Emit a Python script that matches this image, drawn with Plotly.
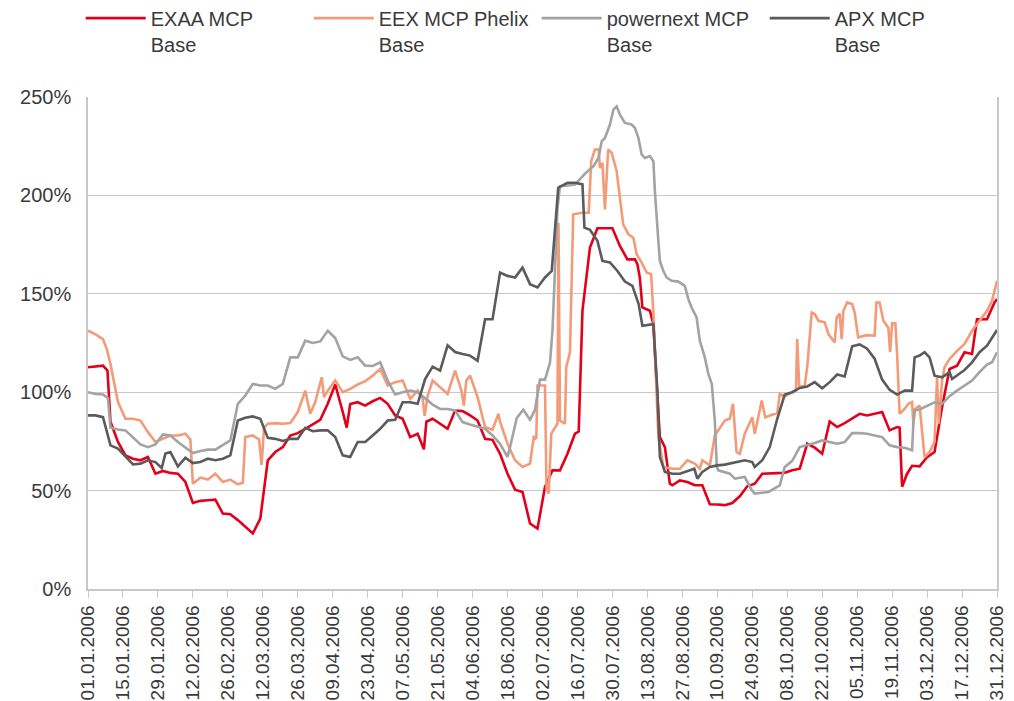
import pandas as pd
import plotly.graph_objects as go

# ---------------- data (day offset from 01.01.2006, value in %) ----------------
exaa_days = [0, 3, 6, 7.8, 9, 12, 15, 18, 21, 24, 27, 30, 33, 36, 39, 42, 45, 48, 51, 54, 57, 60, 63, 66, 69,
             72, 75, 78, 81, 84, 87, 90, 93, 96, 99, 102, 103.6, 105, 108, 111, 114, 117, 120, 123, 126, 129,
             132, 134.5, 135.5, 138, 141, 144, 147, 150, 153, 156, 159, 162, 165, 168, 171, 174, 177, 180, 183,
             186, 189, 192, 195, 196.5, 198, 201, 204, 207, 210, 213, 216, 219, 220, 221, 222, 225, 226.4, 227.7,
             229, 231, 233, 234, 237, 240, 243, 246, 249, 252, 255, 258, 261, 264, 267, 270, 273, 276, 279, 282,
             285, 288, 291, 294, 297, 300, 303, 306, 309, 312, 315, 318, 321, 324, 325, 326, 328, 330, 333, 336,
             339, 342, 345, 348, 351, 354, 356, 360, 363, 364]
exaa_vals = [112.7, 113, 113.5, 111, 85, 74.7, 67.9, 66.2, 65.4, 67.1, 58.6, 60, 59, 58.6, 54.4, 43.7, 44.8, 45.1,
             45.4, 38.3, 38, 35, 31.6, 28.2, 35.8, 65.4, 69.6, 72.1, 78, 79.2, 81.4, 83.9, 86, 94.1, 103.9, 90, 82,
             94, 94.9, 93.2, 95.4, 97.1, 94.1, 88.2, 86.5, 77.2, 78.9, 71, 85, 86.5, 84, 81.4, 90.7, 90.4, 88.2,
             85.6, 76.3, 75.8, 68.7, 58.6, 50.5, 49.3, 33.3, 30.7, 51.9, 60.3, 60.3, 68.7, 78.9, 80, 141.4, 173.5,
             183.3, 183.3, 183.3, 174.3, 167.5, 167.5, 165, 158, 143.1, 141.4, 134.6, 104, 77.2, 72.1, 53.5, 52.7,
             55.2, 54.4, 52.7, 52.7, 43.1, 42.9, 42.6, 43.7, 47.1, 52.2, 53.5, 58.6, 58.9, 58.9, 59.1, 60.3, 61.1,
             73.8, 71.8, 68.7, 85.1, 82.3, 84.3, 86.5, 89, 88.2, 89, 89.9, 80.6, 82.3, 82, 52, 58.6, 62.6, 62.3,
             67, 69.6, 92.4, 111.8, 113.5, 120.3, 119.4, 137, 137.1, 145.6, 147.3]

eex_days = [0, 3, 6, 7.5, 9, 12, 15, 18, 21, 24, 27, 30, 33, 36, 39, 41, 42, 45, 48, 51, 54, 57, 60, 62, 63, 66,
            68.5, 69.5, 70.5, 72, 75, 78, 81, 84, 87, 89, 91, 93.6, 94.5, 96, 99, 102, 105, 108, 111, 114, 117,
            120, 123, 126, 129, 132, 134, 134.8, 136, 138, 141, 144, 147, 149.5, 150.5, 151.5, 153, 156, 159, 162,
            164.3, 165, 168, 171, 174, 177, 178.5, 179.5, 180, 183, 183.6, 184.5, 185.5, 188, 188.4, 189, 191,
            191.5, 193, 194.3, 198, 200.5, 201.5, 203, 204.5, 205, 206, 207, 208.3, 209.7, 211.7, 214.3, 216.4,
            218.4, 219.7, 221.7, 223.7, 225.5, 226.4, 228.4, 230.4, 234, 237, 240, 243, 245, 246, 249, 251, 255,
            257, 258.3, 259.7, 261, 263, 264.5, 266, 267, 268.5, 269.8, 271.2, 275, 276, 277, 279, 282, 283.5,
            284, 284.8, 287, 288, 289.8, 291, 292.5, 295, 296.5, 298, 299, 299.8, 301, 301.8, 302.5, 304, 306,
            307, 308.4, 311.8, 315, 315.7, 317, 318.5, 320.5, 321.2, 322, 323.3, 324, 325, 327, 328.5, 330, 330.5,
            331.2, 333, 335, 337, 339, 340, 340.7, 342, 343, 345, 348, 351, 354, 357, 360, 362, 364]
eex_vals = [131.2, 129.4, 127, 122, 114.3, 95, 86.5, 86.5, 85.6, 79.7, 74.7, 76.3, 78, 78, 78.9, 76, 53.5, 56.6,
            55.6, 58.6, 54.4, 55.6, 53.2, 54, 77.2, 78, 76, 63, 82, 84, 84.3, 84, 84.3, 89.9, 100.8, 89, 95, 107.6,
            97.5, 100.8, 105.9, 100, 101.7, 103.9, 105.6, 108.4, 111.8, 103.4, 105.1, 105.9, 96.6, 100.8, 97, 88,
            98, 105.9, 102.5, 99.1, 111, 101, 93.2, 106, 108.4, 97.5, 82.3, 80.9, 89, 85, 73.8, 65.4, 62, 63.7,
            77.2, 76.3, 103.4, 103.4, 51, 48.5, 78.9, 84, 186, 85.6, 84, 112.7, 120.3, 190.4, 191.2, 191.2, 217.4,
            223.3, 223.3, 214, 216.5, 192.9, 223.3, 221.6, 212.3, 185.3, 180.2, 178.5, 170.1, 165.9, 160.8, 160,
            140.5, 77.2, 62, 61.1, 61.1, 65.4, 63.7, 61.1, 65.4, 62.8, 78, 85.6, 86.5, 94.1, 69.6, 68.7, 78.9,
            83.1, 87.3, 78.9, 87.3, 95.8, 87.3, 89, 89.4, 99.1, 97.8, 100, 100.8, 127, 102.5, 103.4, 112.7, 140.5,
            139.7, 136.3, 135.5, 129.5, 127, 125.3, 138, 140, 127, 141.4, 145.6, 144.8, 140.5, 127.9, 129, 128.7,
            145.6, 145.6, 136.3, 132.6, 120.3, 135, 135, 119.4, 89, 91.5, 94.1, 95, 84, 91.5, 93.2, 67, 69.6, 74.7,
            107.6, 84, 105.9, 112.7, 116.9, 121, 124.5, 131.2, 136.3, 141.4, 146.4, 156.6]

pnx_days = [0, 3, 6, 8, 9, 12, 15, 18, 21, 24, 27, 30, 33, 36, 39, 42, 45, 48, 51, 54, 57, 60, 63, 66, 69, 72, 75,
            78, 81, 84, 87, 90, 93, 96, 99, 102, 105, 108, 111, 114, 117, 120, 123, 126, 129, 132, 135, 138, 141,
            144, 147, 150, 153, 156, 159, 162, 165, 168, 169, 171.7, 174.3, 177, 179, 181, 183, 185, 186, 188, 189,
            192, 195, 199, 202.5, 204.4, 205.7, 207, 209, 210.4, 211.7, 213, 215, 217.7, 219, 220.4, 221.7, 223,
            225, 226.4, 227, 228.4, 229, 230.4, 231.7, 233.7, 236.4, 239, 240.4, 241.7, 243.7, 245, 247, 248.4,
            249.8, 251, 251.8, 252.4, 257, 259, 263, 265.8, 267, 272.5, 275, 277, 279, 282, 285, 288, 291, 294,
            297, 300, 303, 306, 309, 312, 315, 318, 321, 324, 327, 330, 330.5, 331, 333, 336, 339, 342, 345, 348,
            351, 354, 357, 360, 362, 364]
pnx_vals = [100, 99.1, 98.8, 97, 82, 81, 80.6, 77.2, 73.5, 72.1, 73.5, 78.5, 78, 74.7, 72.1, 69.1, 70.1, 70.8,
            70.8, 73, 75.5, 94.1, 98.3, 104.2, 103.4, 103.4, 101.7, 104.2, 117.7, 117.7, 126.2, 125, 125.8, 131.2,
            127.5, 118.2, 116.4, 117.7, 113.5, 113.3, 115.2, 105.9, 98.8, 100, 100.8, 100, 96.6, 93.7, 91.5, 91.5,
            90.7, 84.8, 83.6, 82.3, 81.4, 78, 73.8, 67.1, 72, 86.9, 91.1, 86, 91.1, 106.4, 106.4, 114.9, 131.2,
            193.7, 204.7, 205, 205.5, 211, 215, 219, 227.5, 229.2, 236, 243.6, 245.3, 241, 236.8, 236, 234.3,
            229.2, 220.8, 219, 220, 217.4, 202.2, 176.8, 166.7, 161.6, 158.3, 156.6, 156.2, 154, 147.3, 143, 138,
            126.2, 117.7, 109.3, 104.2, 85.6, 62, 60.3, 58.6, 56.1, 56.9, 50.2, 48.5, 49.3, 51, 52.7, 62, 65.1,
            72.1, 73, 74.2, 75.5, 74.7, 73.8, 74.7, 79.2, 79.2, 78.9, 78, 77.2, 73, 72.1, 71.8, 70.5, 84, 90.7,
            91.2, 93.2, 94.9, 94.1, 98, 100.8, 103.4, 105.9, 110.2, 114, 115.2, 120.3]

apx_days = [0, 3, 6, 9, 12, 15, 18, 21, 24, 27, 29.5, 31, 33, 36, 39, 42, 45, 48, 51, 54, 57, 60, 63, 66, 69, 72,
            75, 78, 81, 84, 87, 90, 93, 96, 99, 102, 105, 108, 111, 114, 117, 120, 123, 126, 129, 132, 135, 138,
            141, 144, 147, 150, 153, 156, 159, 162, 165, 168, 171, 174, 177, 180, 183, 185.7, 188.3, 192, 195, 198,
            198.8, 201, 204, 206, 209, 212, 215, 218, 220.5, 222, 225, 226.4, 228, 229, 231, 234, 237, 240, 242.8,
            244, 246, 249, 252, 255, 258, 260, 263, 266, 267, 270, 273, 276, 279, 282, 285, 288, 291, 294, 297,
            300, 303, 306, 309, 312, 315, 318, 321, 324, 327, 330, 331, 333, 335, 337, 339, 342, 345, 346, 348,
            351, 354, 357, 360, 362, 364]
apx_vals = [88.2, 88.2, 87.3, 73, 71.3, 67.1, 63.3, 63.7, 65.4, 64.5, 61.5, 68.8, 69.6, 62.3, 66.7, 64, 64.5, 66.2,
            65.4, 66.2, 67.9, 85.6, 87, 87.7, 86.5, 76.8, 76.3, 75.2, 76.3, 76.3, 81.9, 80.2, 80.6, 80.6, 77.2,
            67.9, 67.1, 74.7, 74.7, 78, 81.4, 85.6, 86, 94.9, 94.9, 94.1, 106.7, 113, 111, 123.8, 120.4, 119.4,
            118.6, 116, 137.1, 137.1, 160.8, 159.1, 158.3, 163.3, 154.9, 153.2, 158.3, 161.6, 203.9, 206.4, 206.4,
            205.6, 183.6, 182.5, 176.9, 166.7, 165.9, 161.6, 156.2, 154, 144.8, 133.8, 134.6, 134.6, 100.8, 67.1,
            59.5, 58.6, 58.6, 59.8, 61.1, 56.1, 59.5, 62, 62.8, 63.2, 64, 64.5, 65.4, 64.5, 62, 65.4, 72.1, 86.5,
            98.8, 100, 102.2, 102.9, 105.1, 102, 105.1, 109, 108, 123.3, 124.3, 122.1, 117, 106.4, 101.2, 98.8,
            100.8, 100.8, 117.7, 118.6, 120.3, 117.7, 108.4, 107.6, 110.2, 106.7, 108.4, 111.3, 115.2, 120.3,
            123.6, 127.9, 131.6]

series_names = ["EXAA MCP<br>Base", "EEX MCP Phelix<br>Base", "powernext MCP<br>Base", "APX MCP<br>Base"]
series_colors = ["#e3001b", "#f39b78", "#a3a3a3", "#5b5b5b"]

y_ticks = [0, 50, 100, 150, 200, 250]
x_tick_step_days = 14

# ---------------- figure ----------------
base = pd.Timestamp("2006-01-01")


def to_dates(days):
    return [base + pd.Timedelta(days=d) for d in days]


fig = go.Figure()
for name, color, d, v in zip(series_names, series_colors,
                             [exaa_days, eex_days, pnx_days, apx_days],
                             [exaa_vals, eex_vals, pnx_vals, apx_vals]):
    fig.add_trace(go.Scatter(x=to_dates(d), y=v, mode="lines", name=name,
                             line=dict(color=color, width=2.6)))

tick_dates = pd.date_range("2006-01-01", "2006-12-31", freq=f"{x_tick_step_days}D")
tick_text = [t.strftime("%d.%m.%Y") for t in tick_dates]

font_family = "Liberation Sans, Arial, sans-serif"
fig.update_layout(
    width=1014, height=701,
    margin=dict(l=88, r=17, t=97, b=112, autoexpand=False),
    paper_bgcolor="white", plot_bgcolor="white",
    font=dict(family=font_family, color="#3a3a3a", size=18),
    legend=dict(orientation="h", x=-0.008, xanchor="left", y=1.2, yanchor="top",
                entrywidth=153, entrywidthmode="pixels", itemwidth=60, valign="top",
                font=dict(size=20, color="#3a3a3a"), bgcolor="rgba(0,0,0,0)",
                tracegroupgap=0, traceorder="normal"),
    showlegend=True,
)
fig.update_xaxes(
    type="date", range=[base, pd.Timestamp("2006-12-31")],
    tickmode="array", tickvals=list(tick_dates), ticktext=tick_text,
    tickangle=-90, tickfont=dict(size=19, color="#3a3a3a"),
    ticks="outside", ticklen=7, tickcolor="#c8c8c8", tickwidth=1,
    showline=True, linecolor="#c8c8c8", linewidth=1.5,
    showgrid=False, zeroline=False, automargin=False,
)
fig.update_yaxes(
    range=[0, 250], tickmode="array", tickvals=y_ticks,
    ticktext=[f"{t}%" for t in y_ticks], tickfont=dict(size=20, color="#3a3a3a"),
    showgrid=True, gridcolor="#c8c8c8", gridwidth=1,
    showline=True, linecolor="#c8c8c8", linewidth=1.5, mirror=True,
    zeroline=False, ticks="", ticklabelstandoff=11, automargin=False,
)

fig.write_html("out.html", config={"displayModeBar": False},
               post_script="document.body.style.margin='0';")
